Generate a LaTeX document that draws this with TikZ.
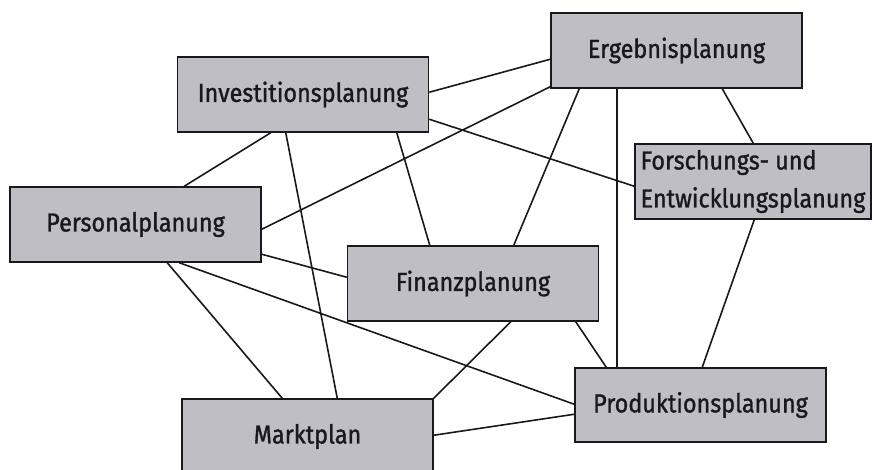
\documentclass[tikz,border=0pt]{standalone}
\usepackage{fontspec}
\setmainfont{Fira Sans}[FakeStretch=0.9,FakeBold=1.2]
\usetikzlibrary{calc,backgrounds}
\definecolor{boxfill}{RGB}{190,190,196}
\definecolor{ink}{RGB}{25,25,28}
\tikzset{
  plbox/.style={draw=ink, line width=1.5pt, fill=boxfill, minimum width=251pt, minimum height=75pt, inner sep=0pt, text=ink, font=\fontsize{26}{38}\selectfont},
  link/.style={draw=ink, line width=1.6pt}
}
\begin{document}
\begin{tikzpicture}[x=1pt,y=-1pt]
\useasboundingbox (0,0) rectangle (874,470);
\node[plbox] (inv) at (303,94.5) {Investitionsplanung\hspace{8pt}};
\node[plbox] (erg) at (676.5,50.5) {Ergebnisplanung};
\node[plbox, minimum width=236pt, align=left] (fue) at (753,181.5) {Forschungs- und\\Entwicklungsplanung};
\node[plbox] (per) at (135.5,224.5) {Personalplanung\hspace{8pt}};
\node[plbox] (fin) at (473,283.5) {Finanzplanung\hspace{8pt}};
\node[plbox, minimum height=74pt] (pro) at (700.5,405) {Produktionsplanung};
\node[plbox] (mar) at (307.5,436.5) {Marktplan\hspace{20pt}};
\begin{scope}[on background layer]
\draw[link] ($(inv.north east)+(0,36)$) -- ($(erg.north west)+(0,47)$);
\draw[link] ($(inv.north east)+(0,63)$) -- ($(fue.north west)+(0,43)$);
\draw[link] ($(inv.south west)+(94,0)$) -- ($(per.north west)+(175,0)$);
\draw[link] ($(inv.south west)+(109,0)$) -- ($(mar.north west)+(156,0)$);
\draw[link] ($(inv.south west)+(220,0)$) -- ($(fin.north west)+(83,0)$);
\draw[link] ($(erg.south west)+(0,-2)$) -- ($(per.north east)+(0,43)$);
\draw[link] ($(erg.south west)+(29,0)$) -- ($(fin.north west)+(167,0)$);
\draw[link] ($(erg.south west)+(67,0)$) -- ($(pro.north west)+(43,0)$);
\draw[link] ($(erg.south west)+(172,0)$) -- ($(fue.north west)+(119,0)$);
\draw[link] ($(fue.south west)+(120,0)$) -- ($(pro.north west)+(128,0)$);
\draw[link] ($(per.north east)+(0,68)$) -- ($(fin.north west)+(0,32)$);
\draw[link] ($(per.south west)+(170,0)$) -- ($(pro.north west)+(0,37)$);
\draw[link] ($(per.south west)+(158,0)$) -- ($(mar.north west)+(101,0)$);
\draw[link] ($(fin.south west)+(164,0)$) -- (mar.north east);
\draw[link] ($(fin.south west)+(229,0)$) -- ($(pro.north west)+(32,0)$);
\draw[link] ($(mar.north east)+(0,37)$) -- ($(pro.north west)+(0,47)$);
\end{scope}
\end{tikzpicture}
\end{document}
